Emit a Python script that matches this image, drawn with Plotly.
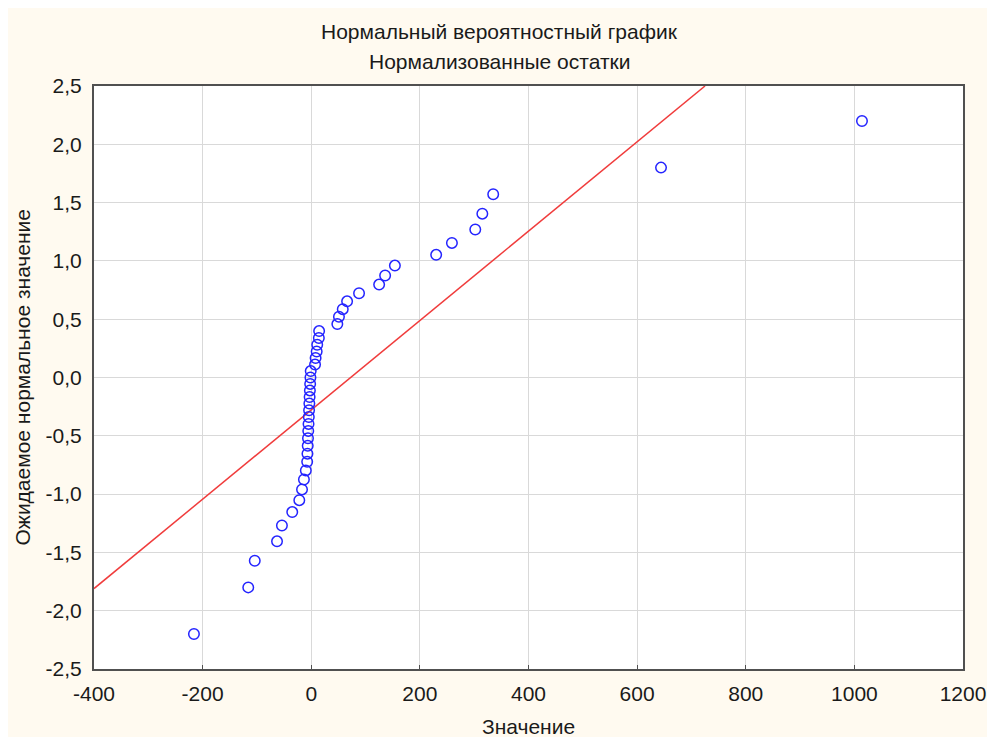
import plotly.graph_objects as go

residual_values = [-216, -116, -104, -63, -54, -35, -22, -17, -13.5, -10, -7.5, -7,
                   -6.5, -6, -5.5, -5, -4.5, -4, -3.5, -3, -2.5, -2, -1.5,
                   -1, 7, 8, 10, 11, 14, 14.5, 48, 51, 58, 66, 88, 125, 136, 154,
                   230, 259, 302, 315, 335, 644, 1014]
expected_normal = [-2.20, -1.80, -1.572, -1.405, -1.269, -1.154, -1.052, -0.960, -0.875,
                   -0.797, -0.723, -0.653, -0.586, -0.521, -0.458, -0.398, -0.339,
                   -0.281, -0.223, -0.167, -0.111, -0.055, 0.0,
                   0.055, 0.111, 0.167, 0.223, 0.281, 0.339, 0.398, 0.458, 0.521,
                   0.586, 0.653, 0.723, 0.797, 0.875, 0.960, 1.052, 1.154, 1.269,
                   1.405, 1.572, 1.80, 2.20]

# Reference line endpoints
line_x = [-400, 725]
line_y = [-1.81, 2.5]

x_ticks = [-400, -200, 0, 200, 400, 600, 800, 1000, 1200]
x_tick_labels = ["-400", "-200", "0", "200", "400", "600", "800", "1000", "1200"]
y_ticks = [-2.5, -2.0, -1.5, -1.0, -0.5, 0.0, 0.5, 1.0, 1.5, 2.0, 2.5]
y_tick_labels = ["-2,5", "-2,0", "-1,5", "-1,0", "-0,5", "0,0", "0,5", "1,0", "1,5", "2,0", "2,5"]

title_lines = ["Нормальный вероятностный график", "Нормализованные остатки"]
x_title = "Значение"
y_title = "Ожидаемое нормальное значение"

W, H = 987, 737
L, R, T, B = 94, 24, 86, 68
pw, ph = W - L - R, H - T - B

def px_x(p):
    return (p - L) / pw

def px_y(p):
    return (H - B - p) / ph

FONT = "Liberation Sans, Arial, sans-serif"
CREAM = "#fffaf0"
FS = 21

fig = go.Figure()
fig.add_trace(go.Scatter(x=line_x, y=line_y, mode="lines",
                         line=dict(color="#f03c3c", width=1.5),
                         hoverinfo="skip", showlegend=False))
fig.add_trace(go.Scatter(x=residual_values, y=expected_normal, mode="markers",
                         marker=dict(symbol="circle-open", size=10.5,
                                     color="#2424ff", line=dict(width=1.5, color="#2424ff")),
                         showlegend=False))

fig.update_layout(
    width=W, height=H,
    margin=dict(l=L, r=R, t=T, b=B, autoexpand=False),
    paper_bgcolor=CREAM, plot_bgcolor="white",
    font=dict(family=FONT, size=FS, color="#1a1a1a"),
    showlegend=False,
)

fig.update_xaxes(range=[-400, 1200], tickvals=x_ticks, ticktext=x_tick_labels,
                 automargin=False,
                 showgrid=True, gridcolor="#d9d9d9", gridwidth=1, zeroline=False,
                 showline=True, mirror=True, linecolor="#505050", linewidth=2,
                 ticks="inside", ticklen=4, tickcolor="#505050",
                 ticklabelstandoff=5)
fig.update_yaxes(range=[-2.5, 2.5], tickvals=y_ticks, ticktext=y_tick_labels,
                 automargin=False,
                 showgrid=True, gridcolor="#d9d9d9", gridwidth=1, zeroline=False,
                 showline=True, mirror=True, linecolor="#505050", linewidth=2,
                 ticks="", ticklabelstandoff=6)

# Title lines
title_cx = px_x(499)
fig.add_annotation(text=title_lines[0], xref="paper", yref="paper", x=title_cx, y=px_y(31),
                   showarrow=False, font=dict(size=FS), xanchor="center", yanchor="middle")
fig.add_annotation(text=title_lines[1], xref="paper", yref="paper", x=title_cx, y=px_y(62),
                   showarrow=False, font=dict(size=FS), xanchor="center", yanchor="middle")

# Axis titles
fig.add_annotation(text=x_title, xref="paper", yref="paper", x=0.5, y=px_y(726),
                   showarrow=False, font=dict(size=FS), xanchor="center", yanchor="middle")
fig.add_annotation(text=y_title, xref="paper", yref="paper", x=px_x(22), y=0.5, textangle=-90,
                   showarrow=False, font=dict(size=FS), xanchor="center", yanchor="middle")

# White strips along the top and left edges of the picture
fig.add_shape(type="rect", xref="paper", yref="paper", x0=px_x(0), x1=px_x(W), y0=px_y(0), y1=px_y(8),
              fillcolor="white", line=dict(width=0), layer="below")
fig.add_shape(type="rect", xref="paper", yref="paper", x0=px_x(0), x1=px_x(8), y0=px_y(0), y1=px_y(H),
              fillcolor="white", line=dict(width=0), layer="below")

fig.write_html("out.html",
               config={"displayModeBar": False},
               post_script="document.body.style.margin='0';document.body.style.overflow='hidden';")
